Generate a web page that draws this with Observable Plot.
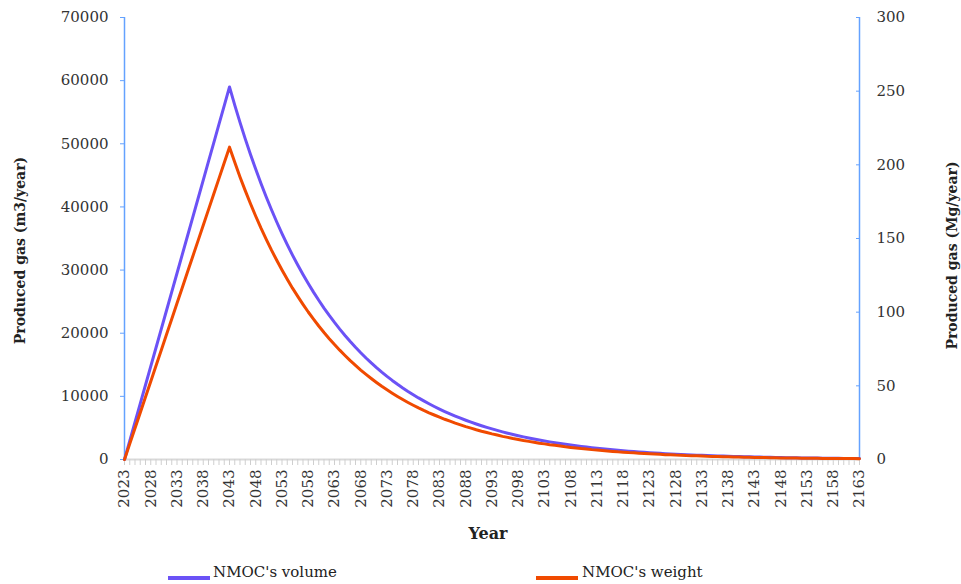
<!DOCTYPE html>
<html>
<head>
<meta charset="utf-8">
<script src="https://cdn.jsdelivr.net/npm/d3@7"></script>
<script src="https://cdn.jsdelivr.net/npm/@observablehq/plot@0.6"></script>
<style>
  body { margin: 0; background: #fff; }
  #wrap { position: relative; width: 961px; height: 584px; overflow: hidden; font-family: "DejaVu Serif", serif; }
  .leg { position: absolute; top: 563px; font-size: 15px; color: #222; }
  .sw { position: absolute; height: 4px; width: 42px; }
</style>
</head>
<body>
<div id="wrap">
  <div id="chart"></div>
  <div class="sw" style="left:168px; top:576px; background:#6b52f6;"></div>
  <div class="leg" style="left:213px;">NMOC's volume</div>
  <div class="sw" style="left:536px; top:576px; background:#f04a00;"></div>
  <div class="leg" style="left:582px;">NMOC's weight</div>
</div>
<script>
const years = d3.range(2023, 2164);
const labelYears = d3.range(2023, 2164, 5);
const leftTicks = [0, 10000, 20000, 30000, 40000, 50000, 60000, 70000];
const rightTicks = [0, 50, 100, 150, 200, 250, 300];

// NMOC volume (m3/year)
const volume = [
  0, 2950, 5900, 8850, 11800, 14750, 17700, 20650, 23600, 26550,
  29500, 32450, 35400, 38350, 41300, 44250, 47200, 50150, 53100, 56050,
  59000, 56122, 53385, 50781, 48304, 45948, 43707, 41575, 39547, 37618,
  35784, 34039, 32379, 30799, 29297, 27868, 26509, 25216, 23986, 22816,
  21705, 20646, 19639, 18681, 17770, 16903, 16079, 15294, 14548, 13839,
  13164, 12522, 11912, 11331, 10778, 10253, 9752, 9277, 8824, 8394,
  7985, 7595, 7225, 6872, 6537, 6219, 5915, 5627, 5352, 5091,
  4843, 4607, 4382, 4168, 3965, 3772, 3588, 3413, 3246, 3088,
  2937, 2794, 2658, 2528, 2405, 2288, 2176, 2070, 1969, 1873,
  1781, 1695, 1612, 1533, 1459, 1388, 1320, 1256, 1194, 1136,
  1081, 1028, 978, 930, 885, 842, 801, 762, 725, 689,
  656, 624, 593, 564, 537, 510, 486, 462, 439, 418,
  397, 378, 360, 342, 325, 310, 295, 280, 267, 254,
  241, 229, 218, 208, 197, 188, 179, 170, 162, 154,
  146
];

// NMOC weight (Mg/year)
const weight = [
  0, 10.6, 21.2, 31.8, 42.4, 53.0, 63.6, 74.2, 84.8, 95.4,
  106.0, 116.6, 127.2, 137.8, 148.4, 159.0, 169.6, 180.2, 190.8, 201.4,
  212.0, 201.7, 191.8, 182.5, 173.6, 165.1, 157.0, 149.4, 142.1, 135.2,
  128.6, 122.3, 116.3, 110.7, 105.3, 100.1, 95.3, 90.6, 86.2, 82.0,
  78.0, 74.2, 70.6, 67.1, 63.9, 60.7, 57.8, 55.0, 52.3, 49.7,
  47.3, 45.0, 42.8, 40.7, 38.7, 36.8, 35.0, 33.3, 31.7, 30.2,
  28.7, 27.3, 26.0, 24.7, 23.5, 22.3, 21.3, 20.2, 19.2, 18.3,
  17.4, 16.6, 15.7, 15.0, 14.2, 13.6, 12.9, 12.3, 11.7, 11.1,
  10.6, 10.0, 9.6, 9.1, 8.6, 8.2, 7.8, 7.4, 7.1, 6.7,
  6.4, 6.1, 5.8, 5.5, 5.2, 5.0, 4.7, 4.5, 4.3, 4.1,
  3.9, 3.7, 3.5, 3.3, 3.2, 3.0, 2.9, 2.7, 2.6, 2.5,
  2.4, 2.2, 2.1, 2.0, 1.9, 1.8, 1.7, 1.7, 1.6, 1.5,
  1.4, 1.4, 1.3, 1.2, 1.2, 1.1, 1.1, 1.0, 1.0, 0.9,
  0.9, 0.8, 0.8, 0.7, 0.7, 0.7, 0.6, 0.6, 0.6, 0.6,
  0.5
];

const LEFT_MAX = 70000, RIGHT_MAX = 300;
const toLeft = v => v * LEFT_MAX / RIGHT_MAX;
const data = years.map((y, i) => ({year: y, volume: volume[i], weight: weight[i]}));

const axisBlue = "#64a2ff";
const chart = Plot.plot({
  width: 961,
  height: 556,
  marginLeft: 124,
  marginRight: 102,
  marginTop: 17,
  marginBottom: 97,
  x: {domain: [2023, 2163]},
  y: {domain: [0, LEFT_MAX]},
  style: {fontFamily: "DejaVu Serif", fontSize: "15px", color: "#333", background: "#fff"},
  marks: [
    Plot.ruleY([0], {stroke: "#d9d9d9", strokeWidth: 2}),
    Plot.axisX({ticks: years, tickSize: 6, tickFormat: () => "", stroke: "#cfcfcf", label: null}),
    Plot.axisX({ticks: labelYears, tickSize: 0, tickPadding: 10, tickRotate: -90, tickFormat: d => String(d), label: null, fill: "#333"}),
    Plot.ruleX([2023, 2163], {stroke: axisBlue, strokeWidth: 1.5}),
    Plot.axisY({anchor: "left", ticks: leftTicks, tickSize: 4, tickPadding: 12, tickFormat: d => String(d), stroke: axisBlue, fill: "#333", label: null}),
    Plot.axisY({anchor: "right", ticks: rightTicks.map(toLeft), tickSize: -4, stroke: axisBlue, tickFormat: () => "", label: null}),
    Plot.axisY({anchor: "right", ticks: rightTicks.map(toLeft), tickSize: 0, tickPadding: 17, tickFormat: d => String(Math.round(d * RIGHT_MAX / LEFT_MAX)), fill: "#333", label: null}),
    Plot.line(data, {x: "year", y: "volume", stroke: "#6b52f6", strokeWidth: 3}),
    Plot.line(data, {x: "year", y: d => toLeft(d.weight), stroke: "#f04a00", strokeWidth: 3}),
    Plot.text(["Year"], {frameAnchor: "bottom", text: d => d, dx: -4, dy: 79, fontWeight: "bold", fontSize: 16, fill: "#222"}),
    Plot.text(["Produced gas (m3/year)"], {frameAnchor: "left", textAnchor: "middle", text: d => d, rotate: -90, dx: -104, dy: 12, fontWeight: "bold", fontSize: 14, fill: "#222"}),
    Plot.text(["Produced gas (Mg/year)"], {frameAnchor: "right", textAnchor: "middle", text: d => d, rotate: -90, dx: 93, dy: 17, fontWeight: "bold", fontSize: 14, fill: "#222"})
  ]
});
document.getElementById("chart").appendChild(chart);
</script>
</body>
</html>
